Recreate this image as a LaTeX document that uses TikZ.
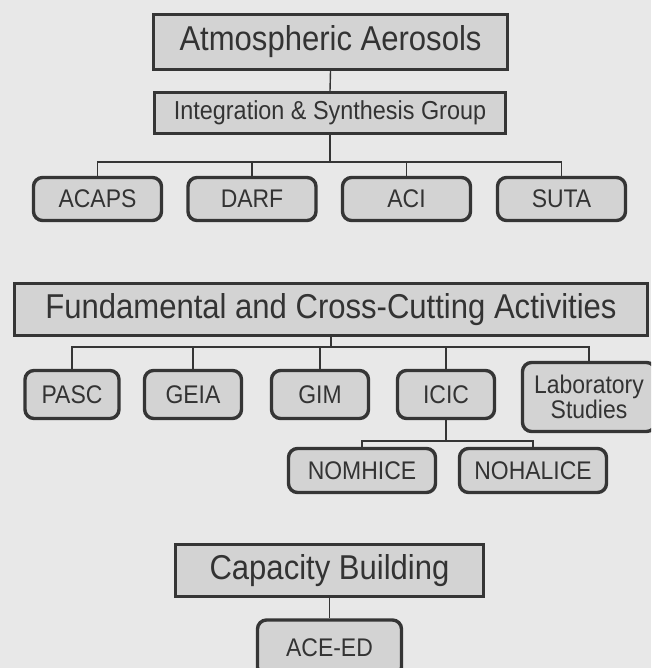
\documentclass[tikz,border=0pt]{standalone}
\usepackage{fontspec}
\setmainfont[FakeStretch=0.9]{Liberation Sans}
\definecolor{bgc}{HTML}{E8E8E8}
\definecolor{boxfill}{HTML}{D3D3D3}
\definecolor{edge}{HTML}{353535}
\definecolor{ink}{HTML}{333333}
\newcommand{\bigtxt}{\fontsize{34.5}{36}\selectfont}
\newcommand{\midtxt}{\fontsize{26}{28}\selectfont}
\newcommand{\smalltxt}{\fontsize{25.5}{23.5}\selectfont}
\tikzset{
  sqbox/.style={draw=edge, line width=3.4pt, fill=boxfill, text=ink, inner sep=0pt, align=center},
  rbox/.style={sqbox, rounded corners=9pt, font=\smalltxt},
  link/.style={draw=edge, line width=1.4pt},
}
\begin{document}
\begin{tikzpicture}[x=1pt,y=-1pt]
\useasboundingbox (0,0) rectangle (651,668);
\clip (0,0) rectangle (651,668);
\fill[bgc] (0,0) rectangle (651,668);

% top group
\node[sqbox, font=\bigtxt, minimum width=354pt, minimum height=55pt] (atm) at (330.5,42) {Atmospheric Aerosols};
\node[sqbox, font=\midtxt, minimum width=351pt, minimum height=41pt] (isg) at (330,113) {Integration \& Synthesis Group};
\node[rbox, minimum width=128pt, minimum height=43pt] (acaps) at (97.5,199) {ACAPS};
\node[rbox, minimum width=128pt, minimum height=43pt] (darf) at (252,199) {DARF};
\node[rbox, minimum width=128pt, minimum height=43pt] (aci) at (406.5,199) {ACI};
\node[rbox, minimum width=128pt, minimum height=43pt] (suta) at (561.5,199) {SUTA};

% middle group
\node[sqbox, font=\bigtxt, minimum width=633pt, minimum height=52pt] (fcca) at (331,309.5) {Fundamental and Cross-Cutting Activities};
\node[rbox, minimum width=94pt, minimum height=48pt] (pasc) at (72,394.5) {PASC};
\node[rbox, minimum width=97pt, minimum height=48pt] (geia) at (193,394.5) {GEIA};
\node[rbox, minimum width=97pt, minimum height=48pt] (gim) at (320,394.5) {GIM};
\node[rbox, minimum width=97pt, minimum height=48pt] (icic) at (446,394.5) {ICIC};
\node[rbox, minimum width=133pt, minimum height=69pt] (lab) at (589,397) {Laboratory\\Studies};
\node[rbox, minimum width=147pt, minimum height=44pt] (nomhice) at (362,470.5) {NOMHICE};
\node[rbox, minimum width=147pt, minimum height=44pt] (nohalice) at (533,470.5) {NOHALICE};

% bottom group
\node[sqbox, font=\bigtxt, minimum width=308pt, minimum height=52pt] (cap) at (329.5,570.5) {Capacity Building};
\node[rbox, minimum width=144pt, minimum height=56pt] (aceed) at (329.5,648) {ACE-ED};

% connectors
\coordinate (bus1) at (330,162);
\coordinate (bus2) at (331,347);
\coordinate (bus3) at (446,441);

\draw[link] (atm.south) -- (isg.north);
\draw[link] (isg.south) -- (isg.south |- bus1);
\foreach \n in {acaps,darf,aci,suta} \draw[link] (isg.south |- bus1) -| (\n.north);

\draw[link] (fcca.south) -- (fcca.south |- bus2);
\foreach \n in {pasc,geia,gim,icic,lab} \draw[link] (fcca.south |- bus2) -| (\n.north);

\draw[link] (icic.south) -- (icic.south |- bus3);
\foreach \n in {nomhice,nohalice} \draw[link] (icic.south |- bus3) -| (\n.north);

\draw[link] (cap.south) -- (aceed.north);
\end{tikzpicture}
\end{document}
